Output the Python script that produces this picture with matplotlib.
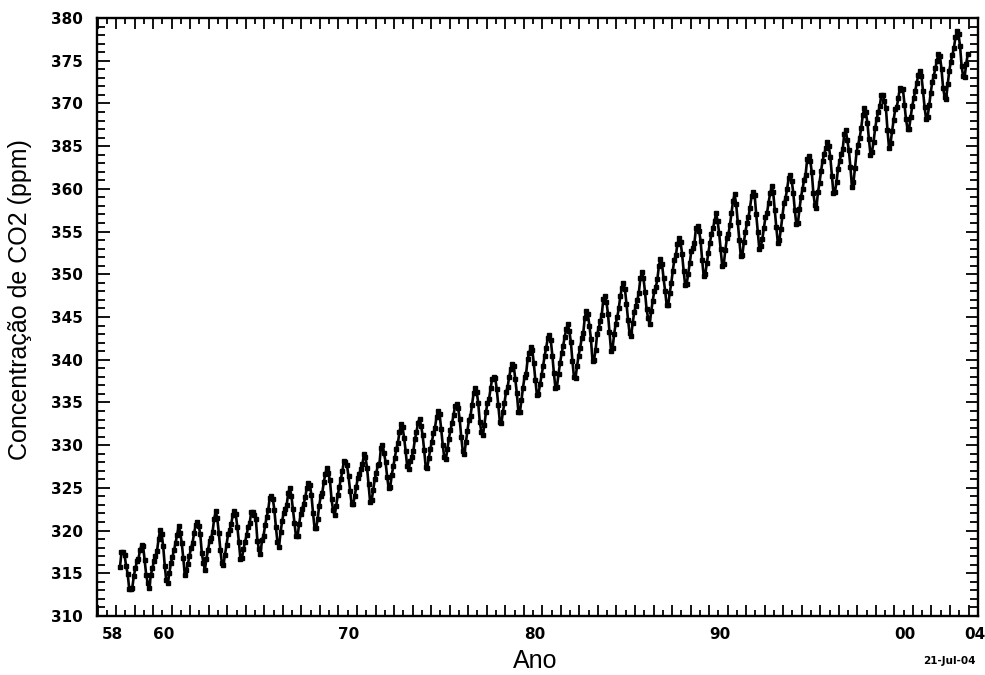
import numpy as np
import matplotlib
matplotlib.use('Agg')
import matplotlib.pyplot as plt
from matplotlib.ticker import MultipleLocator, NullFormatter

# monthly Mauna Loa CO2 (ppm), one list per calendar month, years 1958..2003
years = list(range(1958, 2004))
nan = np.nan
co2_jan = [nan, 315.62, 316.43, 316.93, 317.94, 318.74, 319.57, 319.44, 320.62, 322.07,
           322.57, 324.00, 325.06, 326.17, 326.77, 328.54, 329.35, 330.40, 331.75, 332.93,
           334.97, 336.23, 338.01, 339.23, 340.75, 341.38, 343.70, 344.97, 346.29, 348.02,
           350.43, 352.76, 353.66, 354.72, 355.98, 356.70, 358.36, 359.98, 362.09, 363.23,
           365.18, 368.18, 369.29, 370.59, 372.53, 374.88]
co2_feb = [nan, 316.38, 316.97, 317.70, 318.56, 319.08, 320.07, 320.44, 321.59, 322.50,
           323.15, 324.42, 325.98, 326.68, 327.63, 329.56, 330.71, 331.40, 332.56, 333.42,
           335.39, 336.76, 338.36, 340.47, 341.61, 342.52, 344.51, 346.00, 346.96, 348.47,
           351.72, 353.07, 354.70, 355.75, 356.72, 357.16, 358.91, 361.03, 363.29, 364.06,
           365.98, 368.99, 369.54, 371.51, 373.20, 375.64]
co2_mar = [315.71, 316.71, 317.58, 318.54, 319.68, 319.86, 320.73, 320.89, 322.39, 323.04,
           323.89, 325.64, 326.93, 327.18, 327.75, 330.30, 331.48, 332.04, 333.50, 334.70,
           336.64, 337.96, 340.08, 341.38, 342.70, 343.10, 345.28, 347.43, 347.86, 349.42,
           352.22, 353.68, 355.39, 357.16, 357.81, 358.38, 359.97, 361.66, 364.06, 364.61,
           367.13, 369.67, 370.60, 372.43, 374.12, 376.45]
co2_apr = [317.45, 317.72, 319.02, 319.48, 320.63, 321.39, 321.77, 322.13, 323.87, 324.42,
           325.02, 326.66, 328.13, 327.78, 329.72, 331.50, 332.65, 333.31, 334.58, 336.07,
           337.76, 338.89, 340.77, 342.51, 343.56, 344.94, 347.08, 348.35, 349.55, 350.99,
           353.59, 355.42, 356.20, 358.60, 359.15, 359.46, 361.26, 363.48, 364.76, 366.40,
           368.61, 370.99, 371.82, 373.37, 375.02, 377.73]
co2_may = [317.50, 318.29, 320.03, 320.58, 321.01, 322.25, 322.25, 322.16, 324.01, 325.00,
           325.57, 327.38, 328.07, 328.92, 330.07, 332.48, 333.09, 333.96, 334.87, 336.74,
           338.01, 339.47, 341.46, 342.91, 344.13, 345.75, 347.43, 348.93, 350.21, 351.84,
           354.22, 355.67, 357.16, 359.34, 359.66, 360.28, 361.68, 363.82, 365.45, 366.84,
           369.49, 370.96, 371.58, 373.85, 375.76, 378.45]
co2_jun = [317.10, 318.15, 319.59, 319.77, 320.55, 321.47, 321.89, 321.87, 323.75, 324.09,
           325.36, 326.70, 327.66, 328.57, 329.09, 332.07, 332.25, 333.59, 334.34, 336.27,
           337.89, 339.29, 341.17, 342.25, 343.35, 345.32, 346.79, 348.25, 349.54, 351.25,
           353.79, 355.12, 356.22, 358.24, 359.25, 359.60, 360.95, 363.30, 365.01, 365.68,
           368.95, 370.30, 371.70, 373.22, 375.52, 378.10]
co2_jul = [315.86, 316.54, 318.18, 318.57, 319.58, 319.74, 320.44, 321.39, 322.39, 322.55,
           324.14, 325.89, 326.35, 327.37, 328.05, 330.87, 331.18, 331.91, 333.05, 334.93,
           336.54, 337.73, 339.56, 340.49, 342.06, 343.99, 345.40, 346.56, 347.94, 349.52,
           352.39, 353.90, 354.82, 356.17, 357.03, 357.57, 359.55, 361.94, 363.70, 364.52,
           367.74, 369.45, 369.86, 371.50, 374.01, 376.70]
co2_aug = [314.93, 314.80, 315.91, 316.79, 317.40, 317.77, 318.70, 318.81, 320.37, 320.92,
           322.11, 323.67, 324.69, 325.43, 326.32, 329.31, 329.40, 330.06, 330.94, 332.75,
           334.68, 336.09, 337.60, 338.43, 339.82, 342.39, 343.28, 344.69, 345.91, 348.10,
           350.44, 351.67, 352.91, 354.03, 355.00, 355.52, 357.49, 359.50, 361.54, 362.57,
           365.79, 366.90, 368.13, 369.61, 371.85, 374.38]
co2_sep = [313.19, 313.84, 314.16, 314.80, 316.26, 316.21, 316.70, 317.81, 318.64, 319.31,
           320.33, 322.38, 323.10, 323.36, 324.93, 327.51, 327.44, 328.56, 329.30, 331.58,
           332.76, 333.91, 335.88, 336.69, 337.97, 339.86, 341.07, 343.09, 344.86, 346.44,
           348.72, 349.80, 350.96, 352.16, 353.01, 353.70, 355.84, 358.11, 359.51, 360.24,
           364.01, 364.81, 367.00, 368.18, 370.75, 373.17]
co2_oct = [313.20, 313.26, 313.83, 315.38, 315.42, 315.99, 316.79, 317.30, 318.10, 319.31,
           320.25, 321.78, 323.07, 323.56, 325.06, 327.18, 327.37, 328.34, 328.94, 331.16,
           332.54, 333.86, 336.01, 336.85, 337.86, 339.99, 341.35, 342.80, 344.17, 346.36,
           348.88, 349.99, 351.18, 352.21, 353.31, 353.98, 356.00, 357.80, 359.65, 360.83,
           364.35, 365.37, 367.03, 368.45, 370.55, 373.15]
co2_nov = [313.33, 314.80, 315.00, 316.10, 316.69, 317.12, 317.79, 318.87, 319.79, 320.72,
           321.32, 322.85, 324.01, 324.80, 326.50, 328.16, 328.46, 329.49, 330.31, 332.40,
           333.92, 335.29, 337.10, 338.36, 339.26, 341.16, 342.98, 344.24, 345.66, 347.81,
           350.07, 351.30, 352.83, 353.75, 354.16, 355.33, 357.59, 359.61, 360.80, 362.49,
           365.52, 366.72, 368.37, 369.76, 372.25, 374.66]
co2_dec = [314.67, 315.58, 316.19, 317.01, 317.69, 318.31, 318.71, 319.42, 321.08, 321.96,
           322.90, 324.12, 325.13, 326.01, 327.55, 328.64, 329.58, 330.76, 331.68, 333.85,
           334.95, 336.73, 338.21, 339.61, 340.49, 342.99, 344.22, 345.56, 346.90, 348.96,
           351.34, 352.52, 354.21, 354.99, 355.40, 356.80, 359.05, 360.74, 362.38, 364.34,
           367.08, 368.10, 369.67, 371.24, 373.79, 375.75]

ytick_vals = [310, 315, 320, 325, 330, 335, 340, 345, 350, 355, 360, 365, 370, 375, 380]
ytick_labels = ['310', '315', '320', '325', '330', '335', '340', '345', '350', '355',
                '360', '385', '370', '375', '380']
xlabel_years = [1957.25, 1960, 1970, 1980, 1990, 2000, 2003.78]
xlabel_texts = ['58', '60', '70', '80', '90', '00', '04']


co2 = np.column_stack([co2_jan, co2_feb, co2_mar, co2_apr, co2_may, co2_jun,
                       co2_jul, co2_aug, co2_sep, co2_oct, co2_nov, co2_dec])
t = np.array(years)[:, None] + (np.arange(12) + 0.5) / 12.0
t = t.ravel()
co2 = co2.ravel()

fig = plt.figure(figsize=(9.85, 6.75), dpi=100)
W, H = 985.0, 675.0
ax = fig.add_axes([97 / W, 1 - 616 / H, (978 - 97) / W, (616 - 18) / H])

ax.plot(t, co2, color='black', lw=1.9, marker='s', ms=3.4, mec='black', mfc='black')

ax.set_xlim(1956.97, 2004.51)
ax.set_ylim(310, 380)

for s in ax.spines.values():
    s.set_linewidth(1.7)

ax.xaxis.set_major_locator(MultipleLocator(1))
ax.xaxis.set_minor_locator(MultipleLocator(0.5))
ax.xaxis.set_major_formatter(NullFormatter())
ax.set_yticks(ytick_vals, labels=ytick_labels)
ax.yaxis.set_minor_locator(MultipleLocator(1))

ax.tick_params(which='both', direction='in', top=True, right=True, width=1.3)
ax.tick_params(axis='x', which='major', length=8)
ax.tick_params(axis='x', which='minor', length=4.5)
ax.tick_params(axis='y', which='major', length=9, pad=10)
ax.tick_params(axis='y', which='minor', length=5.5)
for lab in ax.get_yticklabels():
    lab.set_fontfamily('DejaVu Sans')
    lab.set_fontweight('bold')
    lab.set_fontsize(11)

# x labels sit left-aligned at their year
for yr, txt in zip(xlabel_years, xlabel_texts):
    ax.text(yr, -0.018, txt, transform=ax.get_xaxis_transform(), ha='left', va='top',
            fontsize=11, fontweight='bold', family='DejaVu Sans')

fig.text(20 / W, 1 - 300 / H, 'Concentração de CO2 (ppm)', rotation=90,
         ha='center', va='center', fontsize=18, family='Liberation Sans')
fig.text(535 / W, 1 - 668 / H, 'Ano', ha='center', va='baseline', fontsize=18,
         family='Liberation Sans')
fig.text(923 / W, 1 - 661 / H, '21-Jul-04', ha='left', va='center', fontsize=7.5,
         fontweight='bold', family='DejaVu Sans')

fig.savefig('out.png', dpi=100)
